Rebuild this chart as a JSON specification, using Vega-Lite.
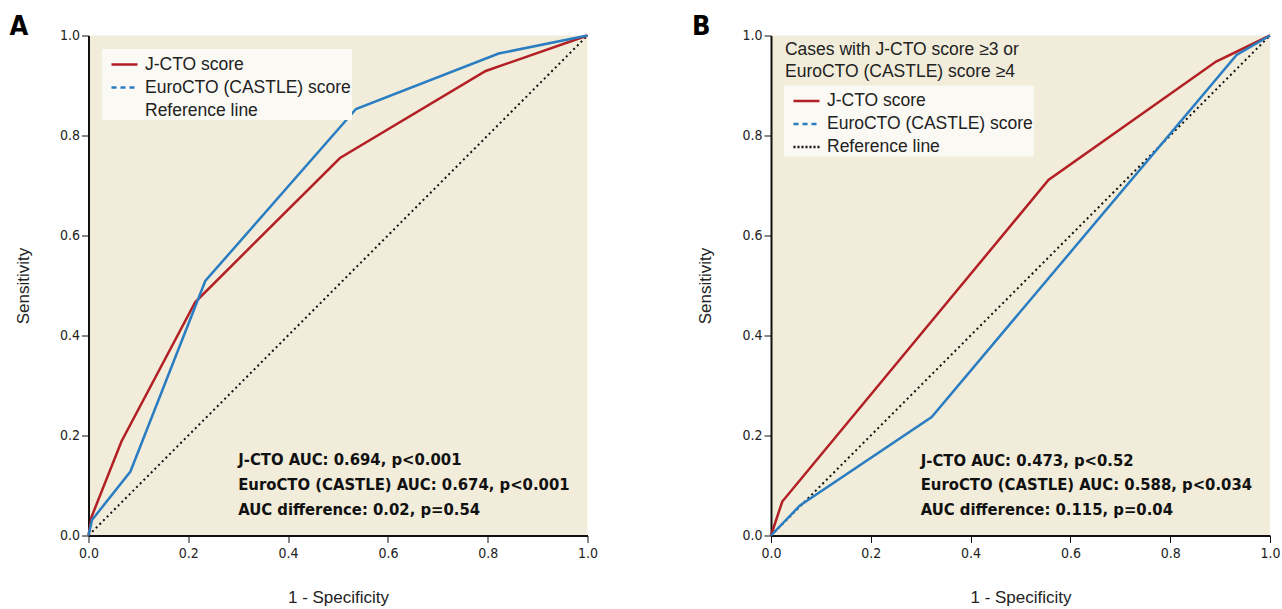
{
  "$schema": "https://vega.github.io/schema/vega-lite/v6.json",
  "background": "white",
  "padding": {"left": 8.5, "top": 12.5, "right": 2, "bottom": 5},
  "spacing": 92.5,
  "resolve": {"scale": {"color": "independent"}, "legend": {"color": "independent"}},
  "config": {
    "view": {"stroke": null, "fill": "#f1edda"},
    "font": "Liberation Sans",
    "axis": {
      "grid": false,
      "labelFlush": false,
      "domainColor": "#111111",
      "domainWidth": 2,
      "tickColor": "#111111",
      "tickSize": 7,
      "tickWidth": 1,
      "labelFont": "DejaVu Sans Condensed, sans-serif",
      "labelFontSize": 14,
      "labelColor": "#222222",
      "titleFont": "Liberation Sans",
      "titleFontSize": 17,
      "titleFontWeight": "normal",
      "titleColor": "#222222"
    },
    "axisX": {"titlePadding": 29, "labelPadding": 4},
    "axisY": {"titlePadding": 27},
    "legend": {
      "title": null,
      "symbolType": "stroke",
      "symbolSize": 676,
      "symbolStrokeWidth": 2.5,
      "symbolOffset": 7,
      "labelFont": "Liberation Sans",
      "labelFontSize": 17.5,
      "labelColor": "#222222",
      "labelOffset": 6,
      "labelLimit": 400,
      "fillColor": "#faf9f4",
      "padding": 1,
      "rowPadding": 0
    },
    "title": {
      "font": "DejaVu Sans Condensed, sans-serif",
      "fontSize": 27,
      "fontWeight": "bold",
      "color": "#000000",
      "anchor": "start",
      "frame": "bounds",
      "offset": -12,
      "dx": -5
    }
  },
  "hconcat": [
    {
      "width": 499,
      "height": 500,
      "title": {"text": "A"},
      "data": {
        "values": [
          {"series": "Reference line", "x": 0, "y": 0},
          {"series": "Reference line", "x": 1, "y": 1},
          {"series": "J-CTO score", "x": 0, "y": 0},
          {"series": "J-CTO score", "x": 0.006, "y": 0.037},
          {"series": "J-CTO score", "x": 0.066, "y": 0.188},
          {"series": "J-CTO score", "x": 0.214, "y": 0.467},
          {"series": "J-CTO score", "x": 0.504, "y": 0.755},
          {"series": "J-CTO score", "x": 0.796, "y": 0.929},
          {"series": "J-CTO score", "x": 1, "y": 1},
          {"series": "EuroCTO (CASTLE) score", "x": 0, "y": 0},
          {"series": "EuroCTO (CASTLE) score", "x": 0.007, "y": 0.031},
          {"series": "EuroCTO (CASTLE) score", "x": 0.084, "y": 0.128},
          {"series": "EuroCTO (CASTLE) score", "x": 0.234, "y": 0.509},
          {"series": "EuroCTO (CASTLE) score", "x": 0.536, "y": 0.853},
          {"series": "EuroCTO (CASTLE) score", "x": 0.822, "y": 0.964},
          {"series": "EuroCTO (CASTLE) score", "x": 1, "y": 1}
        ]
      },
      "layer": [
        {
          "transform": [{"filter": "datum.series === 'Reference line'"}],
          "mark": {"type": "line", "strokeWidth": 2, "strokeDash": [2, 3.2]},
          "encoding": {
            "x": {"field": "x", "type": "quantitative"},
            "y": {"field": "y", "type": "quantitative"},
            "color": {"field": "series", "type": "nominal"}
          }
        },
        {
          "transform": [{"filter": "datum.series !== 'Reference line'"}],
          "mark": {"type": "line", "strokeWidth": 2.5},
          "encoding": {
            "x": {"field": "x", "type": "quantitative", "scale": {"domain": [0, 1]}, "axis": {"title": "1 - Specificity", "values": [0, 0.2, 0.4, 0.6, 0.8, 1], "format": ".1f"}},
            "y": {"field": "y", "type": "quantitative", "scale": {"domain": [0, 1]}, "axis": {"title": "Sensitivity", "values": [0, 0.2, 0.4, 0.6, 0.8, 1], "format": ".1f"}},
            "color": {
              "field": "series",
              "type": "nominal",
              "scale": {"domain": ["J-CTO score", "EuroCTO (CASTLE) score", "Reference line"], "range": ["#b21f24", "#2a7dc1", "#111111"]},
              "legend": {
                "orient": "none",
                "legendX": 13.5,
                "legendY": 13.5,
                "encode": {
                  "symbols": {
                    "update": {
                      "strokeDash": {"signal": "datum.value === 'EuroCTO (CASTLE) score' ? [5, 4] : datum.value === 'Reference line' ? [2, 2] : [1, 0]"},
                      "strokeOpacity": {"signal": "datum.value === 'Reference line' ? 0 : 1"}
                    }
                  }
                }
              }
            }
          }
        },
        {
          "data": {
            "values": [
              {"x": 0.3, "y": 0.151, "label": "J-CTO AUC: 0.694, p<0.001"},
              {"x": 0.3, "y": 0.101, "label": "EuroCTO (CASTLE) AUC: 0.674, p<0.001"},
              {"x": 0.3, "y": 0.052, "label": "AUC difference: 0.02, p=0.54"}
            ]
          },
          "mark": {"type": "text", "align": "left", "baseline": "middle", "font": "DejaVu Sans Condensed, sans-serif", "fontWeight": "bold", "fontSize": 16.5, "color": "#111111"},
          "encoding": {
            "x": {"field": "x", "type": "quantitative"},
            "y": {"field": "y", "type": "quantitative"},
            "text": {"field": "label", "type": "nominal"}
          }
        }
      ]
    },
    {
      "width": 499,
      "height": 500,
      "title": {"text": "B"},
      "data": {
        "values": [
          {"series": "Reference line", "x": 0, "y": 0},
          {"series": "Reference line", "x": 1, "y": 1},
          {"series": "J-CTO score", "x": 0, "y": 0},
          {"series": "J-CTO score", "x": 0.0226, "y": 0.068},
          {"series": "J-CTO score", "x": 0.556, "y": 0.711},
          {"series": "J-CTO score", "x": 0.892, "y": 0.948},
          {"series": "J-CTO score", "x": 1, "y": 1},
          {"series": "EuroCTO (CASTLE) score", "x": 0, "y": 0},
          {"series": "EuroCTO (CASTLE) score", "x": 0.058, "y": 0.06},
          {"series": "EuroCTO (CASTLE) score", "x": 0.322, "y": 0.237},
          {"series": "EuroCTO (CASTLE) score", "x": 0.933, "y": 0.961},
          {"series": "EuroCTO (CASTLE) score", "x": 1, "y": 1}
        ]
      },
      "layer": [
        {
          "transform": [{"filter": "datum.series === 'Reference line'"}],
          "mark": {"type": "line", "strokeWidth": 2, "strokeDash": [2, 3.2]},
          "encoding": {
            "x": {"field": "x", "type": "quantitative"},
            "y": {"field": "y", "type": "quantitative"},
            "color": {"field": "series", "type": "nominal"}
          }
        },
        {
          "transform": [{"filter": "datum.series !== 'Reference line'"}],
          "mark": {"type": "line", "strokeWidth": 2.5},
          "encoding": {
            "x": {"field": "x", "type": "quantitative", "scale": {"domain": [0, 1]}, "axis": {"title": "1 - Specificity", "values": [0, 0.2, 0.4, 0.6, 0.8, 1], "format": ".1f"}},
            "y": {"field": "y", "type": "quantitative", "scale": {"domain": [0, 1]}, "axis": {"title": "Sensitivity", "values": [0, 0.2, 0.4, 0.6, 0.8, 1], "format": ".1f"}},
            "color": {
              "field": "series",
              "type": "nominal",
              "scale": {"domain": ["J-CTO score", "EuroCTO (CASTLE) score", "Reference line"], "range": ["#b21f24", "#2a7dc1", "#111111"]},
              "legend": {
                "orient": "none",
                "legendX": 13,
                "legendY": 50,
                "encode": {
                  "symbols": {
                    "update": {
                      "strokeDash": {"signal": "datum.value === 'EuroCTO (CASTLE) score' ? [5, 4] : datum.value === 'Reference line' ? [2, 2] : [1, 0]"}
                    }
                  }
                }
              }
            }
          }
        },
        {
          "data": {
            "values": [
              {"x": 0.028, "y": 0.971, "label": "Cases with J-CTO score ≥3 or"},
              {"x": 0.028, "y": 0.928, "label": "EuroCTO (CASTLE) score ≥4"}
            ]
          },
          "mark": {"type": "text", "align": "left", "baseline": "middle", "font": "Liberation Sans", "fontSize": 17.5, "color": "#222222"},
          "encoding": {
            "x": {"field": "x", "type": "quantitative"},
            "y": {"field": "y", "type": "quantitative"},
            "text": {"field": "label", "type": "nominal"}
          }
        },
        {
          "data": {
            "values": [
              {"x": 0.3, "y": 0.149, "label": "J-CTO AUC: 0.473, p<0.52"},
              {"x": 0.3, "y": 0.102, "label": "EuroCTO (CASTLE) AUC: 0.588, p<0.034"},
              {"x": 0.3, "y": 0.052, "label": "AUC difference: 0.115, p=0.04"}
            ]
          },
          "mark": {"type": "text", "align": "left", "baseline": "middle", "font": "DejaVu Sans Condensed, sans-serif", "fontWeight": "bold", "fontSize": 16.5, "color": "#111111"},
          "encoding": {
            "x": {"field": "x", "type": "quantitative"},
            "y": {"field": "y", "type": "quantitative"},
            "text": {"field": "label", "type": "nominal"}
          }
        }
      ]
    }
  ]
}
